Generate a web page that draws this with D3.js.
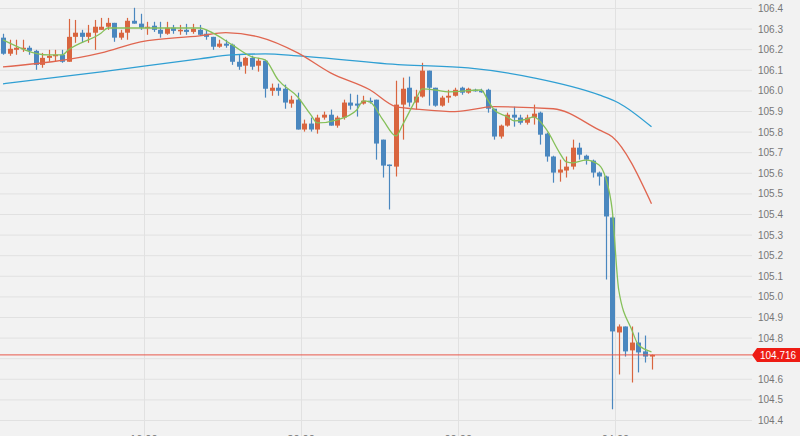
<!DOCTYPE html>
<html><head><meta charset="utf-8">
<script src="https://cdn.jsdelivr.net/npm/d3@7/dist/d3.min.js"></script>
<style>body{margin:0;background:#f2f2f2}svg{display:block}</style>
</head><body><svg id="c" width="800" height="436"></svg>
<script>
const opens=[106.256,106.178,106.197,106.202,106.207,106.192,106.124,106.158,106.168,106.173,106.139,106.260,106.280,106.260,106.280,106.294,106.309,106.328,106.256,106.280,106.338,106.324,106.304,106.314,106.294,106.275,106.304,106.289,106.294,106.284,106.294,106.275,106.260,106.212,106.227,106.222,106.139,106.120,106.158,106.120,106.144,105.998,106.013,106.008,105.936,105.955,105.810,105.839,105.810,105.868,105.882,105.829,105.868,105.941,105.936,105.936,105.950,105.955,105.761,105.640,105.630,105.931,106.013,105.941,105.970,106.096,106.013,105.926,105.965,105.974,106.013,105.989,106.003,105.998,106.003,105.911,105.776,105.829,105.882,105.868,105.843,105.868,105.892,105.790,105.679,105.601,105.611,105.630,105.722,105.683,105.659,105.601,105.582,105.383,104.825,104.854,104.738,104.776,104.733,104.708];
const closes=[106.178,106.202,106.207,106.207,106.192,106.124,106.158,106.168,106.173,106.139,106.260,106.280,106.260,106.280,106.309,106.309,106.328,106.256,106.280,106.338,106.324,106.304,106.309,106.294,106.275,106.304,106.289,106.294,106.284,106.299,106.270,106.260,106.212,106.227,106.217,106.139,106.115,106.158,106.115,106.144,106.008,106.013,105.998,105.941,105.955,105.810,105.839,105.810,105.868,105.882,105.829,105.868,105.941,105.926,105.926,105.950,105.945,105.742,105.635,105.635,105.931,106.008,105.941,105.970,106.096,106.013,105.926,105.965,105.974,106.003,105.989,106.008,105.998,105.994,105.911,105.776,105.829,105.882,105.868,105.843,105.868,105.887,105.785,105.679,105.601,105.616,105.630,105.722,105.688,105.664,105.601,105.582,105.388,104.830,104.854,104.733,104.776,104.728,104.708,104.716];
const highs=[106.275,106.246,106.246,106.246,106.217,106.197,106.182,106.197,106.197,106.197,106.347,106.342,106.294,106.318,106.342,106.352,106.352,106.328,106.294,106.352,106.401,106.372,106.333,106.333,106.333,106.333,106.318,106.318,106.323,106.323,106.318,106.294,106.260,106.246,106.246,106.227,106.173,106.163,106.168,106.158,106.149,106.033,106.033,106.028,105.974,105.989,105.858,105.868,105.882,105.897,105.907,105.877,105.955,105.984,105.979,105.974,105.965,105.955,105.761,105.640,106.047,106.062,106.067,106.003,106.134,106.096,106.013,105.974,106.003,106.013,106.018,106.013,106.008,106.008,106.008,105.911,105.834,105.892,105.921,105.882,105.882,105.931,105.897,105.795,105.683,105.664,105.679,105.761,105.746,105.688,105.664,105.606,105.586,105.388,104.864,104.854,104.854,104.825,104.810,104.718];
const lows=[106.173,106.168,106.173,106.187,106.173,106.100,106.110,106.139,106.139,106.134,106.139,106.231,106.231,106.231,106.197,106.294,106.294,106.236,106.246,106.246,106.324,106.294,106.270,106.284,106.256,106.270,106.275,106.270,106.270,106.275,106.265,106.246,106.197,106.207,106.207,106.124,106.100,106.081,106.100,106.091,105.965,105.974,105.974,105.911,105.916,105.810,105.800,105.800,105.790,105.858,105.829,105.819,105.858,105.907,105.873,105.931,105.936,105.664,105.577,105.422,105.582,105.761,105.921,105.907,105.965,105.926,105.921,105.921,105.940,105.970,105.979,105.984,105.994,105.989,105.892,105.761,105.766,105.824,105.824,105.834,105.834,105.834,105.737,105.654,105.552,105.557,105.577,105.616,105.664,105.640,105.577,105.538,105.082,104.452,104.621,104.708,104.582,104.631,104.679,104.645];
const fastMA=[[0,106.245],[7,106.172],[9,106.172],[10,106.197],[15,106.279],[16,106.303],[30,106.303],[32,106.279],[35,106.221],[38,106.163],[40,106.148],[42,106.051],[45,105.968],[47,105.881],[48,105.842],[51,105.857],[54,105.905],[55,105.949],[56,105.944],[58,105.857],[60,105.779],[61,105.833],[63,105.954],[64,106.007],[66,106.002],[68,105.993],[73,106.002],[74,105.954],[75,105.905],[77,105.871],[78,105.852],[80,105.861],[81,105.871],[83,105.808],[85,105.696],[86,105.653],[87,105.648],[89,105.662],[91,105.638],[92,105.575],[93,105.420],[94,105.031],[96,104.837],[97,104.765],[99,104.731]];
const midMA=[[0,106.114],[15,106.182],[21,106.236],[30,106.265],[34,106.280],[39,106.260],[45,106.182],[50,106.085],[56,106.003],[60,105.921],[64,105.907],[69,105.897],[75,105.921],[84,105.911],[91,105.808],[93,105.775],[99,105.450]];
const slowMA=[[0,106.032],[15,106.090],[30,106.153],[35,106.172],[40,106.177],[45,106.168],[61,106.124],[71,106.109],[81,106.061],[91,105.978],[94,105.939],[99,105.823]];
const yTicks=[104.4,104.5,104.6,104.7,104.8,104.9,105.0,105.1,105.2,105.3,105.4,105.5,105.6,105.7,105.8,105.9,106.0,106.1,106.2,106.3,106.4];
const timeTicks=[[21.5,"16:00"],[45.5,"20:00"],[69.5,"00:00"],[93.5,"04:00"]];
const lastPrice=104.716;

const svg=d3.select("#c");
const W=752;
const x=d3.scaleLinear().domain([0,99]).range([3,651.5]);
const y=d3.scaleLinear().domain([104.4,106.4]).range([420,8]);
const BLUE="#4a87bf",RED="#d9653f";

svg.append("rect").attr("width",800).attr("height",436).attr("fill","#f2f2f2");
svg.append("g").selectAll("line").data(yTicks).join("line")
 .attr("x1",0).attr("x2",W).attr("y1",d=>y(d)+0.5).attr("y2",d=>y(d)+0.5)
 .attr("stroke","#e1e1e1");
svg.append("g").selectAll("line").data(timeTicks).join("line")
 .attr("x1",d=>Math.round(x(d[0]))+0.5).attr("x2",d=>Math.round(x(d[0]))+0.5)
 .attr("y1",0).attr("y2",436).attr("stroke","#e1e1e1");
svg.append("g").selectAll("text").data(yTicks.filter(d=>Math.abs(d-lastPrice)>0.05)).join("text")
 .attr("x",758).attr("y",d=>y(d)+4).text(d=>d.toFixed(1))
 .attr("font-family","Arial, Liberation Sans").attr("font-size",10).attr("fill","#777");
svg.append("g").selectAll("text").data(timeTicks).join("text")
 .attr("x",d=>x(d[0])).attr("y",443).attr("text-anchor","middle").text(d=>d[1])
 .attr("font-family","Arial, Liberation Sans").attr("font-size",11).attr("fill","#777");

const idx=d3.range(opens.length);
const g=svg.append("g");
g.selectAll("line").data(idx).join("line")
 .attr("x1",i=>Math.round(x(i))+0.5).attr("x2",i=>Math.round(x(i))+0.5)
 .attr("y1",i=>y(highs[i])).attr("y2",i=>y(lows[i]))
 .attr("stroke",i=>closes[i]>=opens[i]?RED:BLUE).attr("stroke-width",1.2);
g.selectAll("rect").data(idx).join("rect")
 .attr("x",i=>Math.round(x(i))-2).attr("width",5)
 .attr("y",i=>y(Math.max(opens[i],closes[i])))
 .attr("height",i=>Math.max(1.5,Math.abs(y(opens[i])-y(closes[i]))))
 .attr("fill",i=>closes[i]>=opens[i]?RED:BLUE);

const line=d3.line().x(d=>x(d[0])).y(d=>y(d[1])).curve(d3.curveMonotoneX);
[[slowMA,"#2f9fd3"],[midMA,"#e06650"],[fastMA,"#86c05a"]].forEach(([d,c])=>
 svg.append("path").datum(d).attr("d",line).attr("fill","none").attr("stroke",c).attr("stroke-width",1.3));

svg.append("line").attr("x1",0).attr("x2",W).attr("y1",y(lastPrice)).attr("y2",y(lastPrice))
 .attr("stroke","#e8584a").attr("stroke-width",1);
const ly=y(lastPrice);
svg.append("path").attr("d",`M${W},${ly} L${W+5},${ly-7} L800,${ly-7} L800,${ly+7} L${W+5},${ly+7} Z`).attr("fill","#ee1c14");
svg.append("text").attr("x",760).attr("y",ly+4).text(lastPrice.toFixed(3))
 .attr("font-family","Arial, Liberation Sans").attr("font-size",10).attr("fill","#fff");
</script></body></html>
